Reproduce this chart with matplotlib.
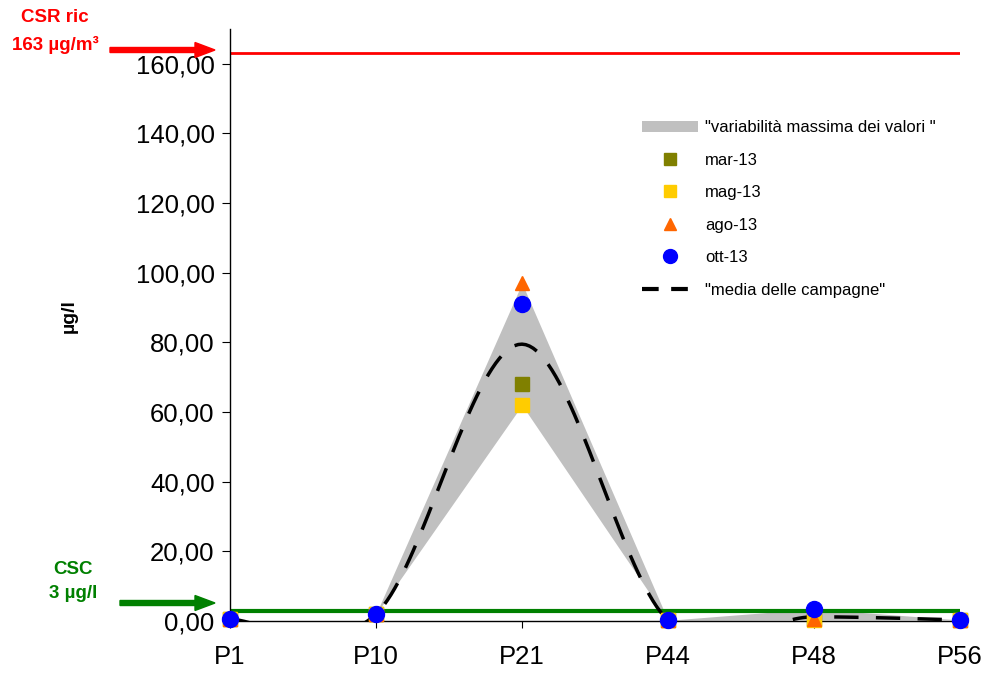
import numpy as np
import matplotlib
matplotlib.use("Agg")
import matplotlib.pyplot as plt
from matplotlib.patches import Patch, FancyArrow
from matplotlib.lines import Line2D

plt.rcParams['font.family'] = ['Liberation Sans', 'DejaVu Sans']

stations = ["P1", "P10", "P21", "P44", "P48", "P56"]
mar13 = [0.5, 2.0, 68.0, 0.2, 0.5, 0.3]
mag13 = [0.5, 2.0, 62.0, 0.2, 0.3, 0.3]
ago13 = [0.5, 2.0, 97.0, 0.2, 0.5, 0.3]
ott13 = [0.5, 2.0, 91.0, 0.2, 3.5, 0.3]
csr_value = 163
csc_value = 3
yticks = [0, 20, 40, 60, 80, 100, 120, 140, 160]

W, H = 989, 674
fig = plt.figure(figsize=(W / 100, H / 100), dpi=100)
ax = fig.add_axes([230 / W, 1 - 621 / H, 730 / W, (621 - 29) / H])

x = np.arange(len(stations))
allv = np.array([mar13, mag13, ago13, ott13])
vmin = allv.min(axis=0)
vmax = allv.max(axis=0)
mean = allv.mean(axis=0)

# gray band
ax.fill_between(x, vmin, vmax, color="#C0C0C0", lw=0, zorder=1)

# reference lines
ax.axhline(csr_value, color="#FF0000", lw=2, zorder=2)
ax.axhline(csc_value, color="#008000", lw=3, zorder=2)

# smoothed mean (Excel-like bezier smoothing)
def smooth(xs, ys, n=40):
    px = np.concatenate([[xs[0]], xs, [xs[-1]]])
    py = np.concatenate([[ys[0]], ys, [ys[-1]]])
    ox, oy = [], []
    for i in range(len(xs) - 1):
        p0 = np.array([px[i], py[i]]); p1 = np.array([px[i + 1], py[i + 1]])
        p2 = np.array([px[i + 2], py[i + 2]]); p3 = np.array([px[i + 3], py[i + 3]])
        c1 = p1 + (p2 - p0) / 6
        c2 = p2 - (p3 - p1) / 6
        t = np.linspace(0, 1, n)[:, None]
        b = (1 - t) ** 3 * p1 + 3 * (1 - t) ** 2 * t * c1 + 3 * (1 - t) * t ** 2 * c2 + t ** 3 * p2
        ox.extend(b[:, 0]); oy.extend(b[:, 1])
    return np.array(ox), np.array(oy)

sx, sy = smooth(x.astype(float), mean)
ax.plot(sx, sy, color="black", lw=2.5, dashes=(7, 5), zorder=3)

# markers
ax.plot(x, mar13, 's', color="#808000", ms=10, zorder=4, clip_on=False)
ax.plot(x, mag13, 's', color="#FFCC00", ms=10, zorder=5, clip_on=False)
ax.plot(x, ago13, '^', color="#FF6600", ms=10, zorder=6, clip_on=False)
ax.plot(x, ott13, 'o', color="#0000FF", ms=11.5, zorder=7, clip_on=False)

ax.set_xlim(0, 5)
ax.set_ylim(0, 170)
ax.set_xticks(x)
ax.set_xticklabels(stations, fontsize=18.5)
ax.set_yticks(yticks)
ax.set_yticklabels([f"{v:.2f}".replace(".", ",") for v in yticks], fontsize=18.5)
for s in ["top", "right"]:
    ax.spines[s].set_visible(False)
ax.spines["left"].set_linewidth(1)
ax.spines["bottom"].set_linewidth(1)
ax.tick_params(axis="x", direction="out", length=5, pad=12)
ax.tick_params(axis="y", direction="out", length=6, pad=5)
ax.set_ylabel("µg/l", fontsize=14, fontweight="bold")
ax.yaxis.set_label_coords((78 - 230) / 730, (621 - 316) / 592)

handles = [
    Patch(facecolor="#C0C0C0", edgecolor="none"),
    Line2D([], [], marker='s', ls='none', color="#808000", ms=9),
    Line2D([], [], marker='s', ls='none', color="#FFCC00", ms=9),
    Line2D([], [], marker='^', ls='none', color="#FF6600", ms=9),
    Line2D([], [], marker='o', ls='none', color="#0000FF", ms=10),
    Line2D([], [], color="black", lw=3, dashes=(4, 3)),
]
labels = ['"variabilità massima dei valori "', "mar-13", "mag-13", "ago-13", "ott-13",
          '"media delle campagne"']
ax.legend(handles, labels, loc="upper left", bbox_to_anchor=(0.555, 0.857),
          frameon=False, fontsize=12, handlelength=3.35, handletextpad=0.45,
          labelspacing=1.05, borderaxespad=0)

# annotations
fig.text(55 / W, 1 - 17 / H, "CSR ric", color="#FF0000", fontsize=13.5, fontweight="bold",
         ha="center", va="center")
fig.text(55 / W, 1 - 45 / H, "163 µg/m³", color="#FF0000", fontsize=13.5,
         fontweight="bold", ha="center", va="center")
fig.text(73 / W, 1 - 570 / H, "CSC", color="#008000", fontsize=13.5, fontweight="bold",
         ha="center", va="center")
fig.text(73 / W, 1 - 593 / H, "3 µg/l", color="#008000", fontsize=13.5, fontweight="bold",
         ha="center", va="center")

fig.patches.append(FancyArrow(110 / W, 1 - 50 / H, 105 / W, 0,
                   width=5 / H, head_width=15 / H, head_length=20 / W,
                   length_includes_head=True, color="#FF0000", transform=fig.transFigure))
fig.patches.append(FancyArrow(120 / W, 1 - 603 / H, 95 / W, 0,
                   width=5 / H, head_width=15 / H, head_length=20 / W,
                   length_includes_head=True, color="#008000", transform=fig.transFigure))

fig.savefig("out.png", dpi=100)
